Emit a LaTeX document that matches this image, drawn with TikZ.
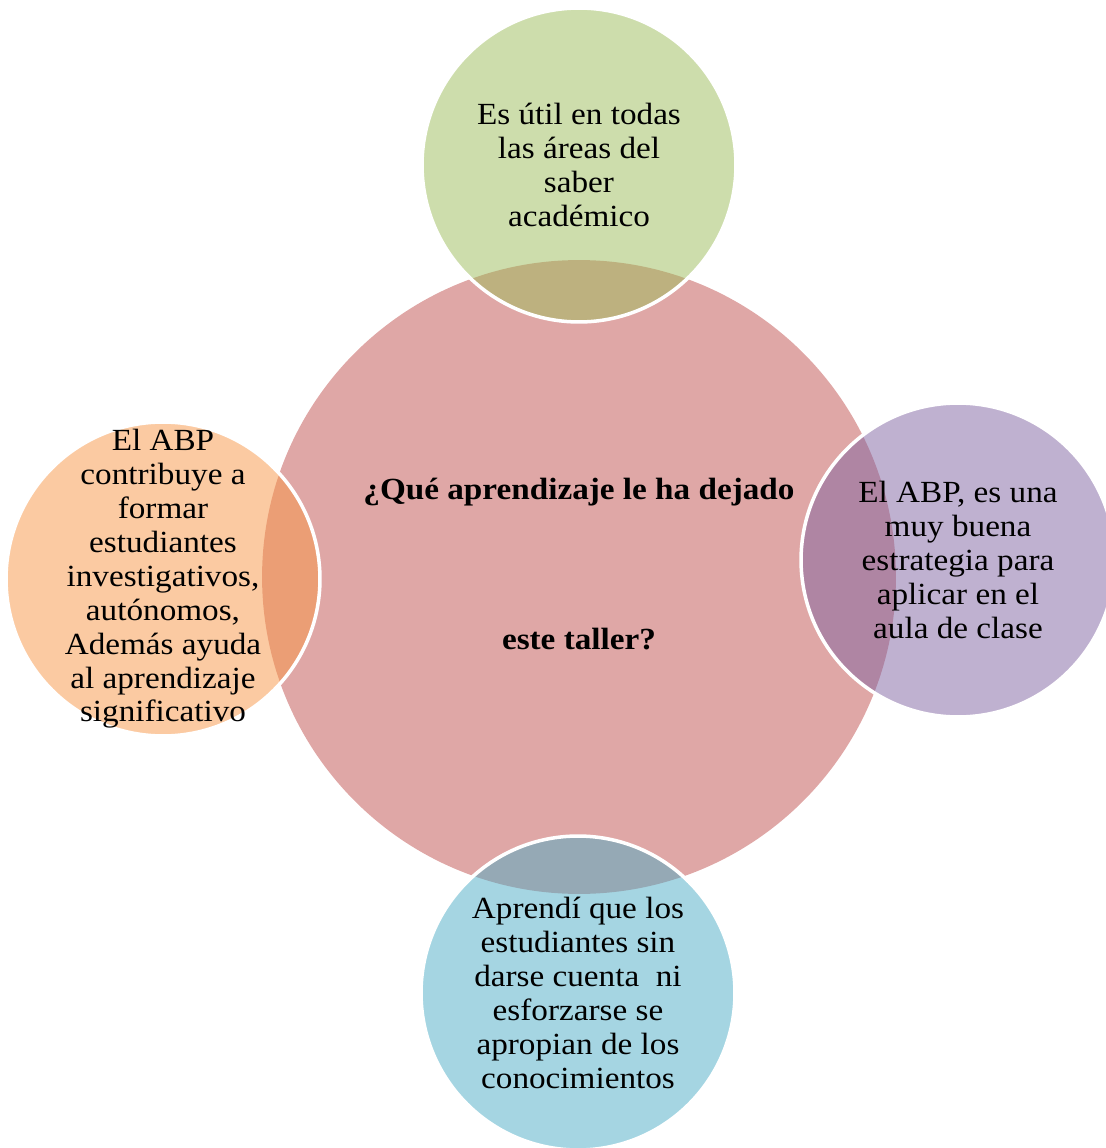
\documentclass[tikz,border=0pt]{standalone}
\usepackage{fontspec}
\setmainfont{Liberation Serif}[FakeStretch=1.08]
\usepackage{tikz}
\definecolor{rojo}{HTML}{C0504D}
\definecolor{verde}{HTML}{9BBB59}
\definecolor{morado}{HTML}{8064A2}
\definecolor{azul}{HTML}{4BACC6}
\definecolor{naranja}{HTML}{F79646}

\begin{document}
\begin{tikzpicture}[x=0.02cm, y=-0.02cm,
  every node/.style={font=\fontsize{17.5}{19.3}\selectfont, align=center, inner sep=0pt},
  burbuja/.style={circle, inner sep=-20pt, minimum size=6.28cm, fill=#1, fill opacity=0.5, text opacity=1, draw=white, draw opacity=1, line width=2pt}]
 \useasboundingbox (0,0) rectangle (1105,1148);
 \node[circle, minimum size=12.68cm, fill=rojo, fill opacity=0.5] (centro) at (579,577) {};
 \node[font=\fontsize{17.5}{19.3}\selectfont\bfseries] (pregunta) at (579,564) {¿Qué aprendizaje le ha dejado\\[65.7pt]este taller?};
 \node[burbuja=verde] (arriba) at (579,165) {Es útil en todas\\las áreas del\\saber\\académico};
 \node[burbuja=morado] (derecha) at (958,560) {El ABP, es una\\muy buena\\estrategia para\\aplicar en el\\aula de clase};
 \node[burbuja=azul] (abajo) at (578,993) {Aprendí que los\\estudiantes sin\\darse cuenta\ \ ni\\esforzarse se\\apropian de los\\conocimientos};
 \node[burbuja=naranja] (izquierda) at (163,579) {El ABP\\contribuye a\\formar\\estudiantes\\investigativos,\\autónomos,\\Además ayuda\\al aprendizaje\\significativo};
\end{tikzpicture}
\end{document}
